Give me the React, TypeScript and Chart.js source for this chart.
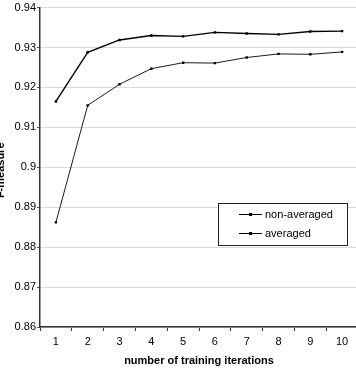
import React, { useEffect, useRef } from "react";
import { Chart, registerables } from "chart.js";

Chart.register(...registerables);

const iterations = ["1", "2", "3", "4", "5", "6", "7", "8", "9", "10"];
const nonAveraged = [0.8862, 0.9155, 0.9208, 0.9247, 0.9262, 0.9261, 0.9275, 0.9284, 0.9283, 0.9289];
const averaged = [0.9165, 0.9288, 0.9319, 0.933, 0.9328, 0.9338, 0.9335, 0.9333, 0.934, 0.9341];
const seriesNames = ["non-averaged", "averaged"];
const xTitle = "number of training iterations";
const yTitle = "F-measure";

const FONT = "'Liberation Sans', Arial, sans-serif";

// Axis titles and the boxed legend drawn inside the plot area
const overlayPlugin = {
  id: "overlay",
  afterDraw(chart: any) {
    const { ctx, chartArea } = chart;
    ctx.save();
    ctx.fillStyle = "#000";
    ctx.font = `bold 11px ${FONT}`;
    ctx.textAlign = "center";
    ctx.textBaseline = "middle";
    ctx.fillText(xTitle, (chartArea.left + chartArea.right) / 2, 361);

    ctx.save();
    ctx.translate(1, (chartArea.top + chartArea.bottom) / 2 + 3);
    ctx.rotate(-Math.PI / 2);
    ctx.fillText(yTitle, 0, 0);
    ctx.restore();

    // legend box
    const bx = 218, by = 203, bw = 129, bh = 42;
    ctx.fillStyle = "#fff";
    ctx.fillRect(bx, by, bw, bh);
    ctx.strokeStyle = "#222";
    ctx.lineWidth = 1;
    ctx.strokeRect(bx + 0.5, by + 0.5, bw, bh);
    const rows = [214, 233];
    seriesNames.forEach((name, i) => {
      const y = rows[i];
      ctx.strokeStyle = "#000";
      ctx.lineWidth = 1;
      ctx.beginPath();
      ctx.moveTo(239, y + 0.5);
      ctx.lineTo(262, y + 0.5);
      ctx.stroke();
      ctx.fillStyle = "#000";
      ctx.fillRect(249, y - 1, 3, 3);
      ctx.font = `11px ${FONT}`;
      ctx.textAlign = "left";
      ctx.textBaseline = "middle";
      ctx.fillText(name, 265, y + 0.5);
    });
    ctx.restore();
  },
};

export default function App() {
  const canvasRef = useRef<HTMLCanvasElement | null>(null);

  useEffect(() => {
    if (!canvasRef.current) return;
    const chart = new Chart(canvasRef.current, {
      type: "line",
      data: {
        labels: iterations,
        datasets: [
          {
            label: seriesNames[0],
            data: nonAveraged,
            borderColor: "#000",
            backgroundColor: "#000",
            borderWidth: 0.9,
            pointStyle: "rect",
            pointRadius: 1.7,
            pointBorderWidth: 0,
            tension: 0,
          },
          {
            label: seriesNames[1],
            data: averaged,
            borderColor: "#000",
            backgroundColor: "#000",
            borderWidth: 1.4,
            pointStyle: "rect",
            pointRadius: 1.7,
            pointBorderWidth: 0,
            tension: 0,
          },
        ],
      },
      options: {
        animation: false,
        responsive: false,
        maintainAspectRatio: false,
        layout: { padding: { top: 5, right: 0, left: 0, bottom: 0 } },
        plugins: {
          legend: { display: false },
          tooltip: { enabled: false },
        },
        scales: {
          x: {
            type: "category",
            offset: true,
            afterFit: (s: any) => {
              s.height = 41;
            },
            border: { color: "#333", width: 1.5 },
            grid: {
              offset: true,
              drawOnChartArea: false,
              drawTicks: true,
              tickLength: 4,
              color: "#333",
            },
            ticks: {
              color: "#000",
              font: { family: FONT, size: 11 },
              padding: 4,
              maxRotation: 0,
            },
          },
          y: {
            min: 0.86,
            max: 0.94,
            afterFit: (s: any) => {
              s.width = 40;
            },
            border: { color: "#333", width: 1.5 },
            grid: {
              color: "#dadada",
              lineWidth: 1,
              drawTicks: true,
              tickLength: 3,
              tickColor: "#555",
            },
            ticks: {
              stepSize: 0.01,
              color: "#000",
              font: { family: FONT, size: 11 },
              padding: 1,
              callback: (v: any) => String(Number(Number(v).toFixed(2))),
            },
          },
        },
      },
      plugins: [overlayPlugin],
    });
    return () => chart.destroy();
  }, []);

  return (
    <div
      style={{
        position: "fixed",
        left: 0,
        top: 0,
        width: 356,
        height: 368,
        overflow: "hidden",
        background: "#fff",
      }}
    >
      <canvas ref={canvasRef} width={362} height={368} style={{ display: "block" }} />
    </div>
  );
}
